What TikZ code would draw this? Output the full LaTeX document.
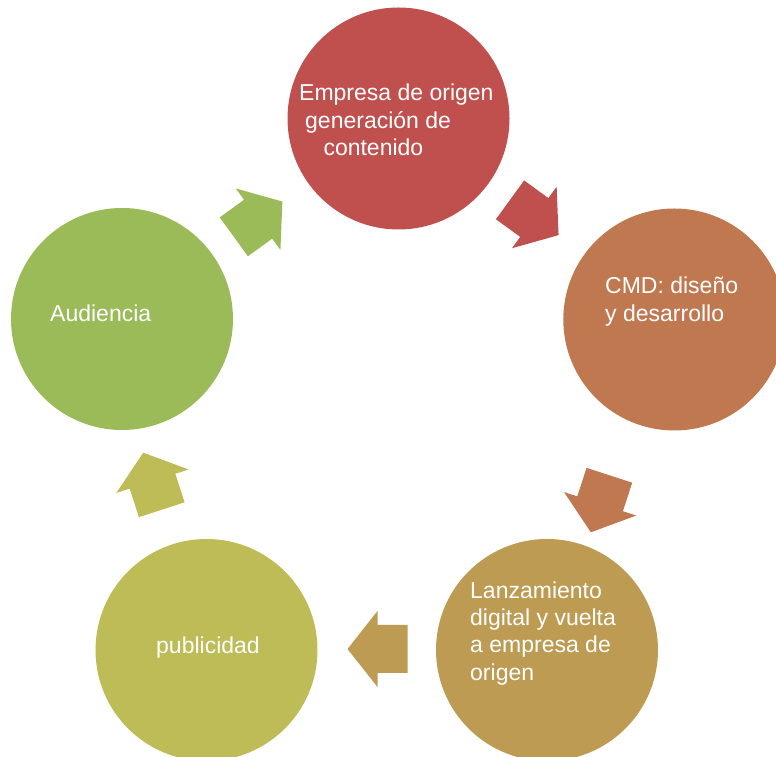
\documentclass[tikz,border=0pt]{standalone}
\usepackage{fontspec}
\setmainfont{Liberation Sans}
\definecolor{cycA}{HTML}{C0504D}
\definecolor{cycB}{HTML}{C07850}
\definecolor{cycC}{HTML}{BD9B52}
\definecolor{cycD}{HTML}{BDBC56}
\definecolor{cycE}{HTML}{9BBB59}
\tikzset{
  stage/.style={circle, fill=#1, draw=none, minimum size=222pt, inner sep=0pt},
  % base anchor of a multi-line caption sits on its last line
  label/.style={text=white, inner sep=0pt, anchor=base west, align=left,
    font=\fontsize{23}{27.3}\selectfont},
  pics/cyclearrow/.style={code={
    \fill[#1] (-30,-24) -- (0,-24) -- (0,-38) -- (30,0) -- (0,38) -- (0,24) -- (-30,24) -- cycle;
  }}
}
\begin{document}
\begin{tikzpicture}[x=1pt,y=1pt]
  \useasboundingbox (0,0) rectangle (776,757);

  % the five stages of the cycle
  \node[stage=cycA] (c1) at (398.5,638.5) {};
  \node[stage=cycB] (c2) at (674.3,437.5) {};
  \node[stage=cycC] (c3) at (547,107) {};
  \node[stage=cycD] (c4) at (206.5,107) {};
  \node[stage=cycE] (c5) at (122,438) {};

  % block arrows between consecutive stages
  \pic[rotate=-36]  (a1) at (534.3,539.5) {cyclearrow=cycA};
  \pic[rotate=-108] (a2) at (600.1,253.2) {cyclearrow=cycB};
  \pic[rotate=180]  (a3) at (377.5,108)   {cyclearrow=cycC};
  \pic[rotate=108]  (a4) at (152.5,275.8) {cyclearrow=cycD};
  \pic[rotate=36]   (a5) at (258.1,537.8) {cyclearrow=cycE};

  % stage captions
  \node[label] (t1) at (299,601.4) {Empresa de origen\\\hspace*{6pt}generación de\\\hspace*{24.3pt}contenido};
  \node[label] (t2) at (605,435.7) {CMD: diseño\\y desarrollo};
  \node[label] (t3) at (470,76.8) {Lanzamiento\\digital y vuelta\\a empresa de\\origen};
  \node[label] (t4) at (156,103.7) {publicidad};
  \node[label] (t5) at (50,435.3) {Audiencia};
\end{tikzpicture}
\end{document}
